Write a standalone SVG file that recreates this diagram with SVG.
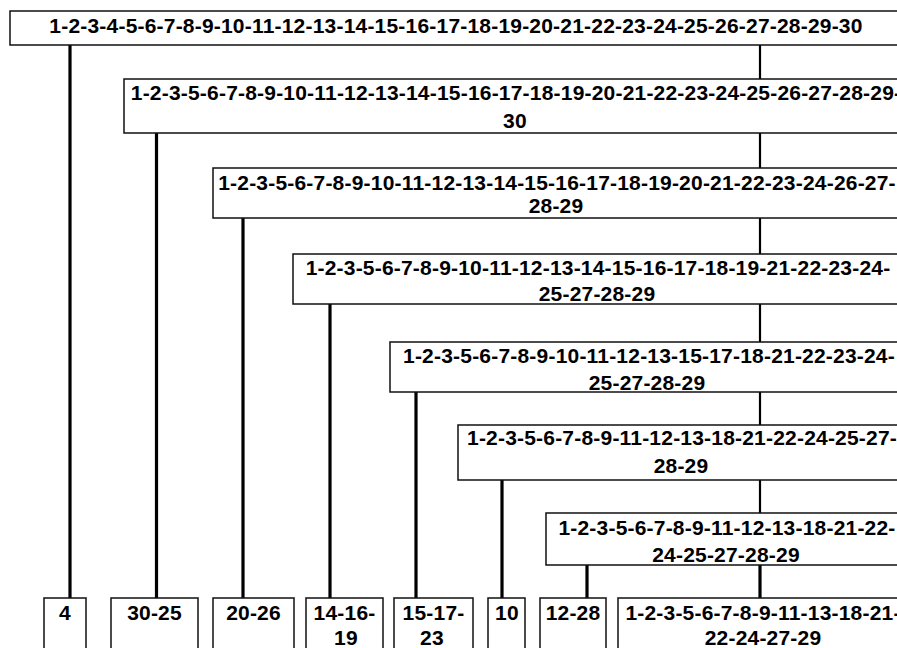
<svg xmlns="http://www.w3.org/2000/svg" width="897" height="648" viewBox="0 0 897 648">
<style>
.box{fill:#fff;stroke:#111;stroke-width:1.5}
.t{font-family:"Liberation Sans",Arial,sans-serif;font-weight:bold;font-size:21px;letter-spacing:0.2px;fill:#000;text-anchor:middle}
.br{stroke:#000;stroke-width:3.2;fill:none}
.tr{stroke:#000;stroke-width:2.2;fill:none}
</style>
<rect width="897" height="648" fill="#fff"/>
<g id="connectors">
<line class="br" x1="70" y1="45" x2="70" y2="598"/>
<line class="br" x1="156.5" y1="133" x2="156.5" y2="598"/>
<line class="br" x1="243" y1="218" x2="243" y2="598"/>
<line class="br" x1="330" y1="304" x2="330" y2="598"/>
<line class="br" x1="416" y1="392" x2="416" y2="598"/>
<line class="br" x1="502" y1="480" x2="502" y2="598"/>
<line class="br" x1="587" y1="565" x2="587" y2="598"/>
<line class="tr" x1="760" y1="45" x2="760" y2="79"/>
<line class="tr" x1="760" y1="133" x2="760" y2="168"/>
<line class="tr" x1="760" y1="218" x2="760" y2="254"/>
<line class="tr" x1="760" y1="304" x2="760" y2="342"/>
<line class="tr" x1="760" y1="392" x2="760" y2="425"/>
<line class="tr" x1="760" y1="480" x2="760" y2="513"/>
<line class="br" x1="760" y1="565" x2="760" y2="598"/>
</g>
<g id="n0">
<rect class="box" x="10" y="11" width="905" height="34"/>
<text class="t" x="456" y="33">1-2-3-4-5-6-7-8-9-10-11-12-13-14-15-16-17-18-19-20-21-22-23-24-25-26-27-28-29-30</text>
</g>
<g id="n1">
<rect class="box" x="124" y="79" width="790" height="54"/>
<text class="t" x="516" y="100">1-2-3-5-6-7-8-9-10-11-12-13-14-15-16-17-18-19-20-21-22-23-24-25-26-27-28-29-</text>
<text class="t" x="515" y="128">30</text>
</g>
<g id="n2">
<rect class="box" x="213" y="168" width="700" height="50"/>
<text class="t" x="557" y="190">1-2-3-5-6-7-8-9-10-11-12-13-14-15-16-17-18-19-20-21-22-23-24-26-27-</text>
<text class="t" x="556" y="213">28-29</text>
</g>
<g id="n3">
<rect class="box" x="293" y="254" width="620" height="50"/>
<text class="t" x="598" y="275">1-2-3-5-6-7-8-9-10-11-12-13-14-15-16-17-18-19-21-22-23-24-</text>
<text class="t" x="597" y="301">25-27-28-29</text>
</g>
<g id="n4">
<rect class="box" x="390" y="342" width="520" height="50"/>
<text class="t" x="649" y="363">1-2-3-5-6-7-8-9-10-11-12-13-15-17-18-21-22-23-24-</text>
<text class="t" x="647" y="390">25-27-28-29</text>
</g>
<g id="n5">
<rect class="box" x="458" y="425" width="450" height="55"/>
<text class="t" x="682" y="445">1-2-3-5-6-7-8-9-11-12-13-18-21-22-24-25-27-</text>
<text class="t" x="681" y="473">28-29</text>
</g>
<g id="n6">
<rect class="box" x="546" y="513" width="360" height="52"/>
<text class="t" x="727" y="535">1-2-3-5-6-7-8-9-11-12-13-18-21-22-</text>
<text class="t" x="726" y="562">24-25-27-28-29</text>
</g>
<g id="l1">
<rect class="box" x="44" y="598" width="42" height="62"/>
<text class="t" x="65" y="620">4</text>
</g>
<g id="l2">
<rect class="box" x="111" y="598" width="87" height="62"/>
<text class="t" x="154.5" y="620">30-25</text>
</g>
<g id="l3">
<rect class="box" x="213" y="598" width="81" height="62"/>
<text class="t" x="253.5" y="620">20-26</text>
</g>
<g id="l4">
<rect class="box" x="306" y="598" width="77" height="62"/>
<text class="t" x="344.5" y="620">14-16-</text>
<text class="t" x="346" y="645">19</text>
</g>
<g id="l5">
<rect class="box" x="394" y="598" width="79" height="62"/>
<text class="t" x="433.5" y="620">15-17-</text>
<text class="t" x="432" y="645">23</text>
</g>
<g id="l6">
<rect class="box" x="488" y="598" width="37" height="62"/>
<text class="t" x="507" y="620">10</text>
</g>
<g id="l7">
<rect class="box" x="540" y="598" width="66" height="62"/>
<text class="t" x="573" y="620">12-28</text>
</g>
<g id="l8">
<rect class="box" x="618" y="598" width="300" height="62"/>
<text class="t" x="763" y="620">1-2-3-5-6-7-8-9-11-13-18-21-</text>
<text class="t" x="763" y="645">22-24-27-29</text>
</g>
</svg>
